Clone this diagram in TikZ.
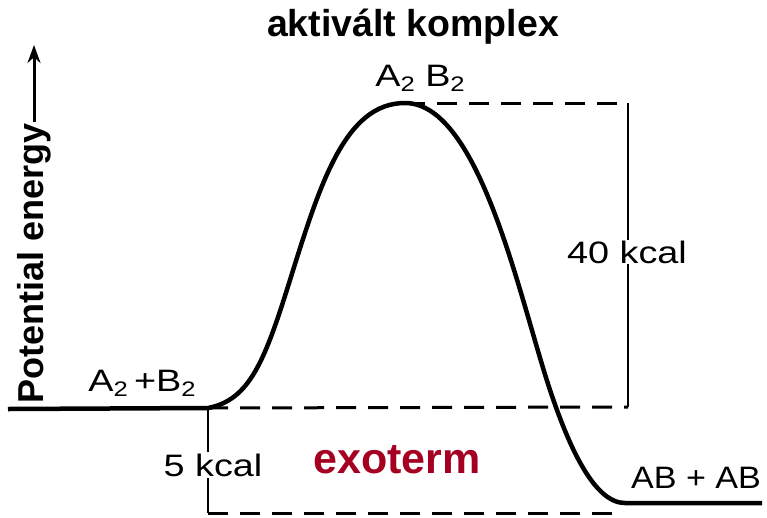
\documentclass[tikz,border=0pt]{standalone}
\usepackage{fontspec}
\setmainfont{Liberation Sans}
\usetikzlibrary{arrows.meta}
\definecolor{exored}{RGB}{165,0,33}
\newcommand{\wide}[2][1.22]{\scalebox{#1}[1]{#2}}
\newcommand{\subtwo}{\raisebox{-0.3ex}{\fontsize{21}{21}\selectfont 2}}
\begin{document}
\begin{tikzpicture}[x=1pt,y=-1pt,
  curve/.style={line width=4.5pt},
  dimdash/.style={line width=3pt,dash pattern=on 20pt off 12pt},
  dimline/.style={line width=2.8pt},
  lbl/.style={font=\fontsize{31}{31}\selectfont,inner sep=1pt},
  ttl/.style={font=\fontsize{37.5}{37.5}\selectfont\bfseries,inner sep=0pt}]
\useasboundingbox (0,0) rectangle (767,517);
% key points
\coordinate (start) at (8,409);
\coordinate (r) at (208,408);
\coordinate (peak) at (405,103);
\coordinate (p) at (625,503);
\coordinate (end) at (762,503);
\coordinate (tr) at (628,103);
\coordinate (mr) at (628,407);
\coordinate (bl) at (208,513);
\coordinate (br) at (620,513);
% dimension lines
\draw[dimdash] (peak) -- (tr);
\draw[dimdash] (r) -- (mr);
\draw[dimdash] (bl) -- (br);
\node[lbl,fill=white,inner ysep=0pt] (k40) at (627,252) {\wide{40 kcal}};
\draw[dimline] (tr) -- (k40.north -| tr);
\draw[dimline] (k40.south -| tr) -- (mr);
\node[lbl,fill=white] (k5) at (213,465) {\wide{5 kcal}};
\draw[dimline] (r) -- (k5.north -| r);
\draw[dimline] (k5.south -| r) -- (bl);
% energy curve
\draw[curve] (start) -- (r) .. controls (250,400) and (265,360) .. (290,280)
  .. controls (320,184) and (345,103) .. (peak)
  .. controls (480,103) and (520,300) .. (550,390)
  .. controls (570,450) and (595,503) .. (p) -- (end);
% labels
\node[ttl] (title) at (413,27) {aktivált komplex};
\node[lbl] (ab2) at (420,78) {\wide{A\subtwo\ B\subtwo}};
\node[lbl] (reac) at (142,383) {\wide{A\subtwo\,+B\subtwo}};
\node[lbl] (prod) at (696,478) {\wide[1.1]{AB + AB}};
\node[ttl,text=exored,font=\fontsize{43}{43}\selectfont\bfseries] (exo) at (397,460) {exoterm};
\node[lbl,rotate=90,font=\fontsize{36}{36}\selectfont\bfseries] (pe) at (34,263) {Potential energy};
\coordinate (axtop) at (34,45);
\draw[line width=3pt,-{Stealth[length=18pt,width=13pt]}] (pe.east) -- (axtop);
\end{tikzpicture}
\end{document}
